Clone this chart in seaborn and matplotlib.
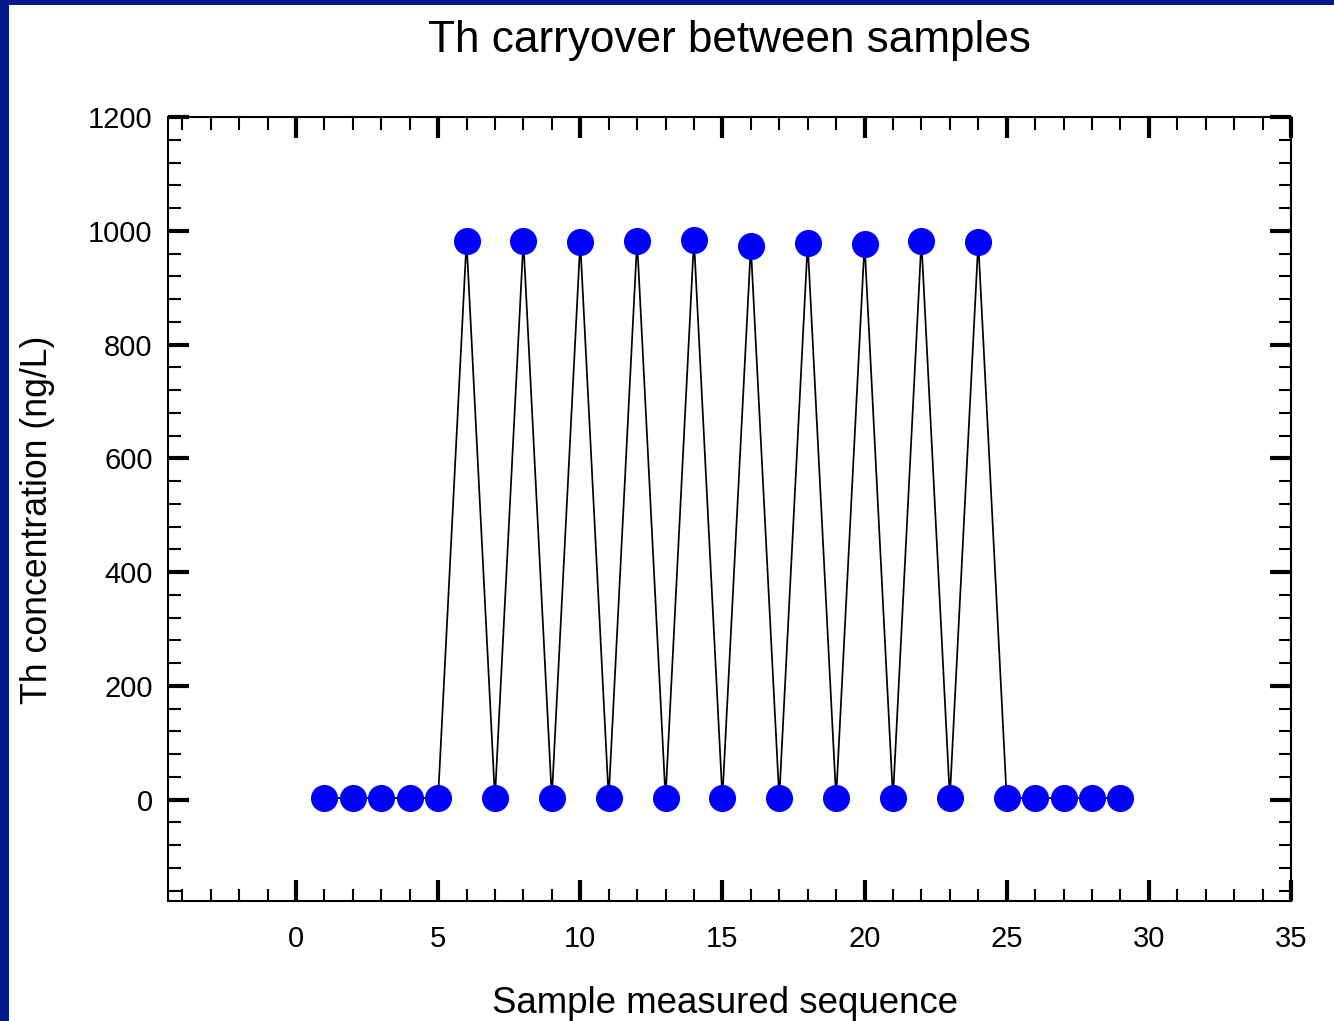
import matplotlib
matplotlib.use("Agg")
import matplotlib.pyplot as plt
import seaborn as sns
import pandas as pd
from matplotlib.ticker import MultipleLocator
from matplotlib.patches import Rectangle

sequence = list(range(1, 30))
concentration = [3, 3, 3, 3, 3,
                 982, 3, 982, 3, 980, 3, 982, 3, 984, 3,
                 973, 3, 978, 3, 977, 3, 982, 3, 980,
                 3, 3, 3, 3, 3]
title = "Th carryover between samples"
xlabel = "Sample measured sequence"
ylabel = "Th concentration (ng/L)"

df = pd.DataFrame({"seq": sequence, "conc": concentration})

sns.set_theme(style="white")
plt.rcParams['font.family'] = ['Liberation Sans', 'DejaVu Sans']

fig = plt.figure(figsize=(13.34, 10.21), dpi=100)
fig.patch.set_facecolor("#001a8a")
fig.patches.append(Rectangle((9/1334, 0), 1, (1021-5)/1021, transform=fig.transFigure,
                             facecolor="white", edgecolor="none", zorder=-10))

ax = fig.add_axes([168/1334, 120/1021, (1291-168)/1334, (904-120)/1021])
ax.set_zorder(5)
ax.set_facecolor("white")

sns.lineplot(data=df, x="seq", y="conc", color="black", linewidth=1.25, ax=ax, zorder=2)
sns.scatterplot(data=df, x="seq", y="conc", color="#0000ff", s=19.5**2, linewidth=0, ax=ax, zorder=3)

ax.set_xlim(-4.5, 35)
ax.set_ylim(-178, 1200)
ax.xaxis.set_major_locator(MultipleLocator(5))
ax.xaxis.set_minor_locator(MultipleLocator(1))
ax.yaxis.set_major_locator(MultipleLocator(200))
ax.yaxis.set_minor_locator(MultipleLocator(40))

for s in ax.spines.values():
    s.set_visible(True)
    s.set_color("black")
    s.set_linewidth(1.5)

ax.tick_params(which="both", direction="in", top=True, right=True, bottom=True, left=True, colors="black")
ax.tick_params(which="major", length=15, width=3, labelsize=21)
ax.tick_params(which="minor", length=9, width=1.5)
ax.tick_params(axis="x", which="major", pad=17)
ax.tick_params(axis="y", which="major", pad=11)

ax.set_title(title, fontsize=31.8, pad=47, color="black")
ax.set_xlabel(xlabel, fontsize=26.4, color="black")
ax.set_ylabel(ylabel, fontsize=25.7, color="black")
ax.xaxis.set_label_coords(0.496, -0.109)
ax.yaxis.set_label_coords(-0.101, 0.486)
ax.grid(False)

fig.savefig("out.png", dpi=100, facecolor=fig.get_facecolor())
